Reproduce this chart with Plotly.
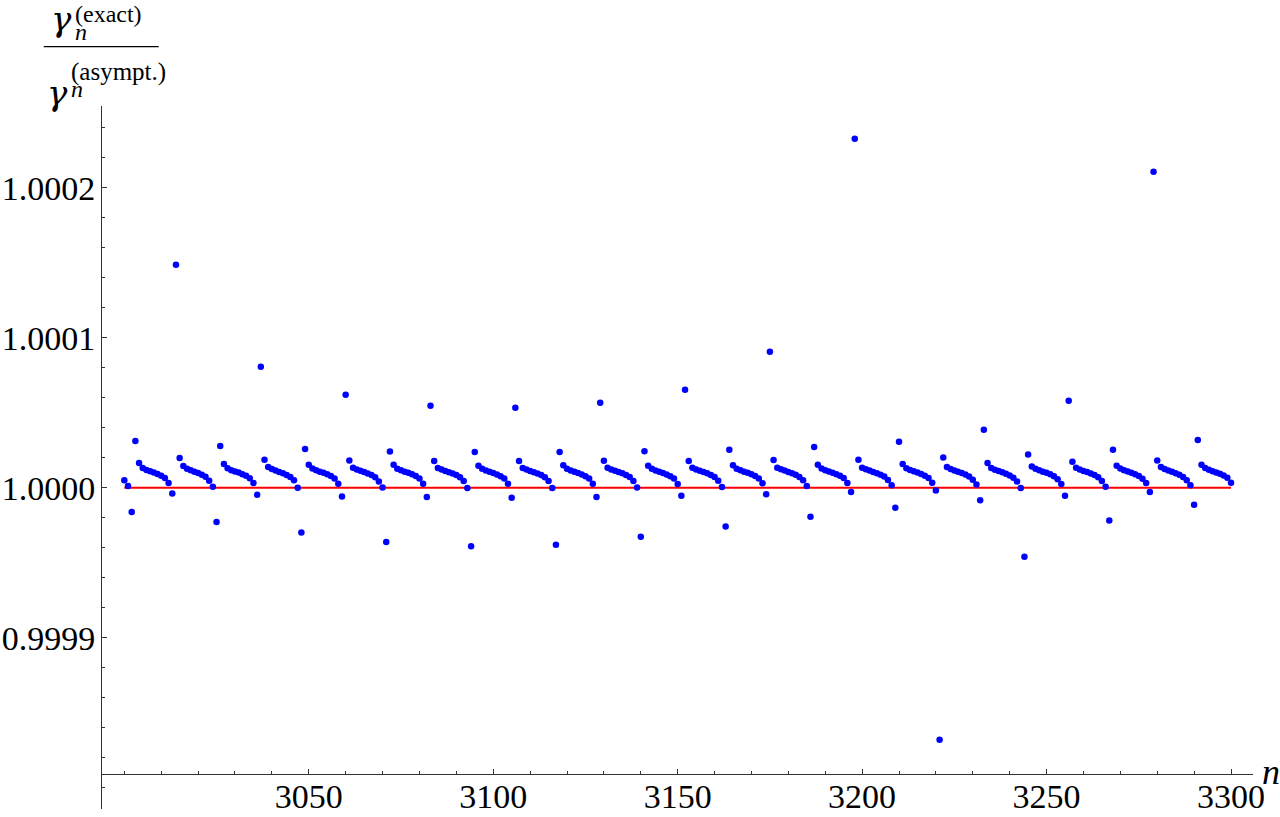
import plotly.graph_objects as go

# ---------------- data ----------------
n_start = 3000
n_end = 3300
n_values = list(range(n_start, n_end + 1))

# ratio gamma_exact / gamma_asympt for n = 3000 .. 3300
ratio = [
    1.0000049, 1.0000011, 0.9999838, 1.0000311, 1.0000164, 1.0000131, 1.0000118, 1.0000109, 1.0000102, 1.0000091,
    1.0000080, 1.0000064, 1.0000031, 0.9999962, 1.0001487, 1.0000198, 1.0000144, 1.0000127, 1.0000116, 1.0000107,
    1.0000098, 1.0000087, 1.0000073, 1.0000047, 1.0000007, 0.9999771, 1.0000278, 1.0000158, 1.0000129, 1.0000117,
    1.0000108, 1.0000101, 1.0000090, 1.0000079, 1.0000063, 1.0000031, 0.9999953, 1.0000807, 1.0000187, 1.0000138,
    1.0000124, 1.0000114, 1.0000105, 1.0000096, 1.0000085, 1.0000071, 1.0000049, 1.0000000, 0.9999702, 1.0000258,
    1.0000153, 1.0000128, 1.0000116, 1.0000107, 1.0000100, 1.0000089, 1.0000078, 1.0000062, 1.0000027, 0.9999942,
    1.0000620, 1.0000182, 1.0000133, 1.0000122, 1.0000113, 1.0000104, 1.0000095, 1.0000084, 1.0000070, 1.0000042,
    1.0000002, 0.9999638, 1.0000242, 1.0000153, 1.0000127, 1.0000116, 1.0000107, 1.0000099, 1.0000089, 1.0000078,
    1.0000062, 1.0000027, 0.9999938, 1.0000547, 1.0000178, 1.0000131, 1.0000121, 1.0000112, 1.0000103, 1.0000095,
    1.0000084, 1.0000070, 1.0000044, 0.9999998, 0.9999609, 1.0000238, 1.0000147, 1.0000126, 1.0000115, 1.0000106,
    1.0000098, 1.0000088, 1.0000077, 1.0000061, 1.0000027, 0.9999933, 1.0000533, 1.0000178, 1.0000131, 1.0000121,
    1.0000112, 1.0000103, 1.0000095, 1.0000084, 1.0000070, 1.0000044, 0.9999998, 0.9999620, 1.0000238, 1.0000149,
    1.0000126, 1.0000115, 1.0000106, 1.0000098, 1.0000088, 1.0000077, 1.0000061, 1.0000027, 0.9999938, 1.0000567,
    1.0000180, 1.0000133, 1.0000122, 1.0000113, 1.0000104, 1.0000096, 1.0000085, 1.0000071, 1.0000045, 1.0000002,
    0.9999673, 1.0000244, 1.0000147, 1.0000126, 1.0000115, 1.0000106, 1.0000098, 1.0000088, 1.0000077, 1.0000061,
    1.0000024, 0.9999947, 1.0000653, 1.0000178, 1.0000133, 1.0000122, 1.0000113, 1.0000104, 1.0000096, 1.0000085,
    1.0000071, 1.0000047, 1.0000004, 0.9999742, 1.0000253, 1.0000149, 1.0000127, 1.0000116, 1.0000107, 1.0000099,
    1.0000089, 1.0000078, 1.0000062, 1.0000029, 0.9999956, 1.0000907, 1.0000184, 1.0000133, 1.0000123, 1.0000114,
    1.0000105, 1.0000097, 1.0000086, 1.0000072, 1.0000049, 1.0000011, 0.9999807, 1.0000271, 1.0000153, 1.0000128,
    1.0000117, 1.0000108, 1.0000100, 1.0000090, 1.0000079, 1.0000064, 1.0000031, 0.9999971, 1.0002327, 1.0000187,
    1.0000133, 1.0000123, 1.0000114, 1.0000105, 1.0000097, 1.0000087, 1.0000074, 1.0000051, 1.0000016, 0.9999867,
    1.0000307, 1.0000158, 1.0000130, 1.0000118, 1.0000109, 1.0000101, 1.0000091, 1.0000080, 1.0000065, 1.0000033,
    0.9999982, 0.9998320, 1.0000202, 1.0000138, 1.0000125, 1.0000115, 1.0000106, 1.0000098, 1.0000088, 1.0000075,
    1.0000053, 1.0000022, 0.9999916, 1.0000387, 1.0000164, 1.0000131, 1.0000120, 1.0000111, 1.0000103, 1.0000093,
    1.0000082, 1.0000067, 1.0000042, 0.9999998, 0.9999540, 1.0000222, 1.0000142, 1.0000126, 1.0000116, 1.0000107,
    1.0000099, 1.0000089, 1.0000076, 1.0000056, 1.0000024, 0.9999947, 1.0000580, 1.0000173, 1.0000133, 1.0000121,
    1.0000112, 1.0000104, 1.0000095, 1.0000084, 1.0000069, 1.0000045, 1.0000007, 0.9999782, 1.0000253, 1.0000147,
    1.0000128, 1.0000117, 1.0000108, 1.0000100, 1.0000090, 1.0000078, 1.0000060, 1.0000031, 0.9999971, 1.0002107,
    1.0000182, 1.0000138, 1.0000124, 1.0000114, 1.0000106, 1.0000097, 1.0000086, 1.0000071, 1.0000049, 1.0000016,
    0.9999887, 1.0000318, 1.0000153, 1.0000131, 1.0000119, 1.0000110, 1.0000102, 1.0000093, 1.0000082, 1.0000066,
    1.0000033,
]

ref_n = [3000, 3300]
ref_value = [1.0, 1.0]

x_tickvals = [3050, 3100, 3150, 3200, 3250, 3300]
x_ticktext = ["3050", "3100", "3150", "3200", "3250", "3300"]
y_tickvals = [0.9999, 1.0, 1.0001, 1.0002]
y_ticktext = ["0.9999", "1.0000", "1.0001", "1.0002"]

# ---------------- layout geometry (pixels) ----------------
W, H = 1280, 817
PL, PR, PT, PB = 102.3, 1253.3, 106.0, 809.0


def px(x):
    return (x - PL) / (PR - PL)


def py(y):
    return (PB - y) / (PB - PT)


SERIF = "Liberation Serif, Times New Roman, serif"
GREEK = "DejaVu Serif, Liberation Serif, serif"
AX = "#333333"

fig = go.Figure()
fig.add_trace(go.Scatter(x=ref_n, y=ref_value, mode="lines",
                         line=dict(color="rgb(255,0,0)", width=2), hoverinfo="skip",
                         showlegend=False))
fig.add_trace(go.Scatter(x=n_values, y=ratio, mode="markers",
                         marker=dict(color="rgb(0,0,255)", size=6.5, line=dict(width=0)),
                         showlegend=False))


def ann(text, x, baseline, size, italic=False, family=SERIF, xanchor="left"):
    t = f"<i>{text}</i>" if italic else text
    return dict(text=t, x=px(x), y=py(baseline - 0.3375 * size),
                xref="paper", yref="paper", xanchor=xanchor, yanchor="middle",
                showarrow=False, borderpad=0,
                font=dict(family=family, size=size, color="black"))


def supsub(sup, sup_size, sub_size, x, top, base_size):
    text = (f"<span style='font-size:{sup_size}px'>{sup}</span><br>"
            f"<span style='font-size:{sub_size}px'><i>n</i></span>")
    return dict(text=text, x=px(x), y=py(top), xref="paper", yref="paper",
                xanchor="left", yanchor="top", align="left", showarrow=False,
                borderpad=0,
                font=dict(family=SERIF, size=base_size, color="black"))


annotations = [
    ann("γ", 73, 30, 34, italic=True, family=GREEK, xanchor="right"),
    supsub("(exact)", 24, 24, 74, 0, 14),
    ann("γ", 69, 104, 34, italic=True, family=GREEK, xanchor="right"),
    supsub("(asympt.)", 25, 24, 70, 57, 13),
    ann("n", 1261, 784, 36, italic=True),
]

shapes = [dict(type="line", xref="paper", yref="paper",
               x0=px(44), x1=px(159), y0=py(46.7), y1=py(46.7),
               line=dict(color="black", width=1.3))]

fig.update_layout(
    width=W, height=H, autosize=False,
    margin=dict(l=PL, r=W - PR, t=PT, b=H - PB, pad=0, autoexpand=False),
    paper_bgcolor="white", plot_bgcolor="white",
    showlegend=False,
    annotations=annotations,
    shapes=shapes,
    xaxis=dict(range=[2993.95, 3305.96], anchor="free", position=(PB - 774) / (PB - PT),
               automargin=False,
               showline=True, linecolor=AX, linewidth=1, mirror=False,
               ticks="inside", ticklen=5, tickwidth=1, tickcolor=AX,
               tickvals=x_tickvals, ticktext=x_ticktext,
               tickfont=dict(family=SERIF, size=34, color="black"),
               ticklabelstandoff=-8,
               showgrid=False, zeroline=False,
               minor=dict(tick0=3000, dtick=10, ticks="inside", ticklen=3,
                          tickcolor=AX, tickwidth=1, showgrid=False)),
    yaxis=dict(range=[0.9997858, 1.0002545], automargin=False,
               showline=True, linecolor=AX, linewidth=1,
               ticks="inside", ticklen=5, tickwidth=1, tickcolor=AX,
               tickvals=y_tickvals, ticktext=y_ticktext,
               tickfont=dict(family=SERIF, size=34, color="black"),
               ticklabelstandoff=-1,
               showgrid=False, zeroline=False,
               minor=dict(tick0=0.9998, dtick=0.00002, ticks="inside", ticklen=3,
                          tickcolor=AX, tickwidth=1, showgrid=False)),
)

fig.write_html("out.html", config={"responsive": False, "displayModeBar": False},
               post_script="document.body.style.margin='0px';document.body.style.overflow='hidden';")
